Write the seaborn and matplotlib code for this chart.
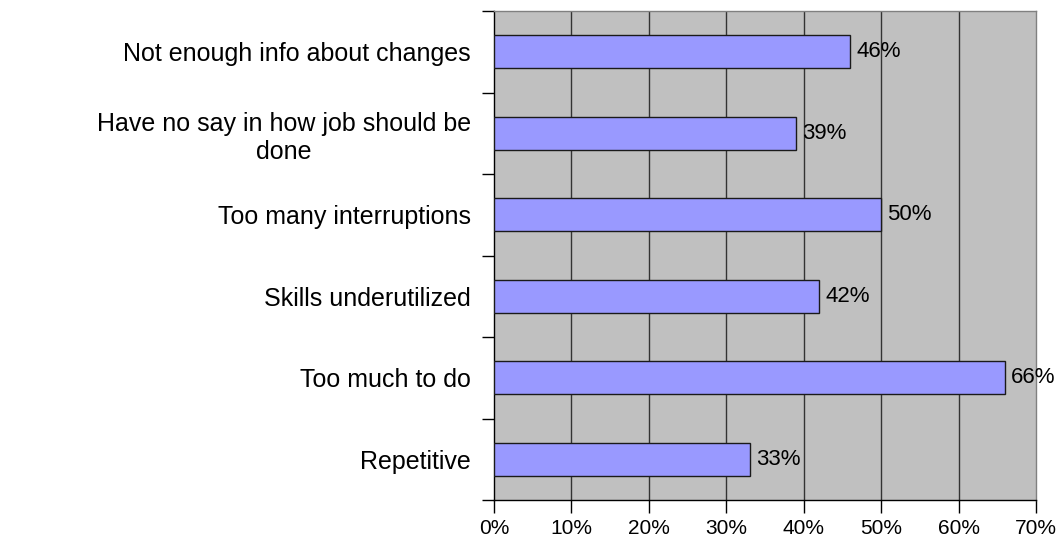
import matplotlib
matplotlib.use("Agg")
import matplotlib.pyplot as plt
import seaborn as sns
import pandas as pd
import numpy as np

categories = [
    "Not enough info about changes",
    "Have no say in how job should be\ndone",
    "Too many interruptions",
    "Skills underutilized",
    "Too much to do",
    "Repetitive",
]
values = [46, 39, 50, 42, 66, 33]
xticks = [0, 10, 20, 30, 40, 50, 60, 70]

df = pd.DataFrame({"category": categories, "value": values})

sns.set_theme(style="white")
plt.rcParams["font.family"] = ["Liberation Sans", "DejaVu Sans"]
plt.rcParams["text.color"] = "black"
plt.rcParams["xtick.color"] = "black"
plt.rcParams["ytick.color"] = "black"

fig = plt.figure(figsize=(10.64, 5.37), dpi=100)
ax = fig.add_axes([494 / 1064, 37 / 537, 542 / 1064, 489 / 537])
ax.set_facecolor("#C0C0C0")

sns.barplot(data=df, x="value", y="category", orient="h", color="#9999FF",
            edgecolor="#1a1a1a", linewidth=1.0, width=0.4, saturation=1,
            ax=ax, zorder=3)

ax.set_xlim(0, 70)
ax.set_ylim(5.5, -0.5)
ax.set_xticks(xticks)
ax.set_xticklabels([f"{t}%" for t in xticks], fontsize=15)
for t in xticks[1:-1]:
    ax.axvline(t, color="#333333", linewidth=1.0, zorder=1)

ax.set_yticks(range(len(categories)))
ax.set_yticklabels(categories, fontsize=18, multialignment="center")
ax.set_yticks(np.arange(-0.5, len(categories), 1.0), minor=True)
ax.tick_params(axis="y", which="major", length=0, pad=16.5)
ax.tick_params(axis="y", which="minor", length=9, width=1, color="black", direction="out", left=True)
ax.tick_params(axis="x", which="major", length=9, width=1, color="black", direction="out", bottom=True, pad=5)

ax.set_xlabel("")
ax.set_ylabel("")

for spine in ["left", "bottom"]:
    ax.spines[spine].set_color("black")
    ax.spines[spine].set_linewidth(1.0)
for spine in ["top", "right"]:
    ax.spines[spine].set_color("#808080")
    ax.spines[spine].set_linewidth(1.0)

for i, v in enumerate(values):
    ax.text(v + 0.8, i, f"{v}%", va="center", ha="left", fontsize=16, zorder=4)

fig.savefig("out.png", dpi=100)
